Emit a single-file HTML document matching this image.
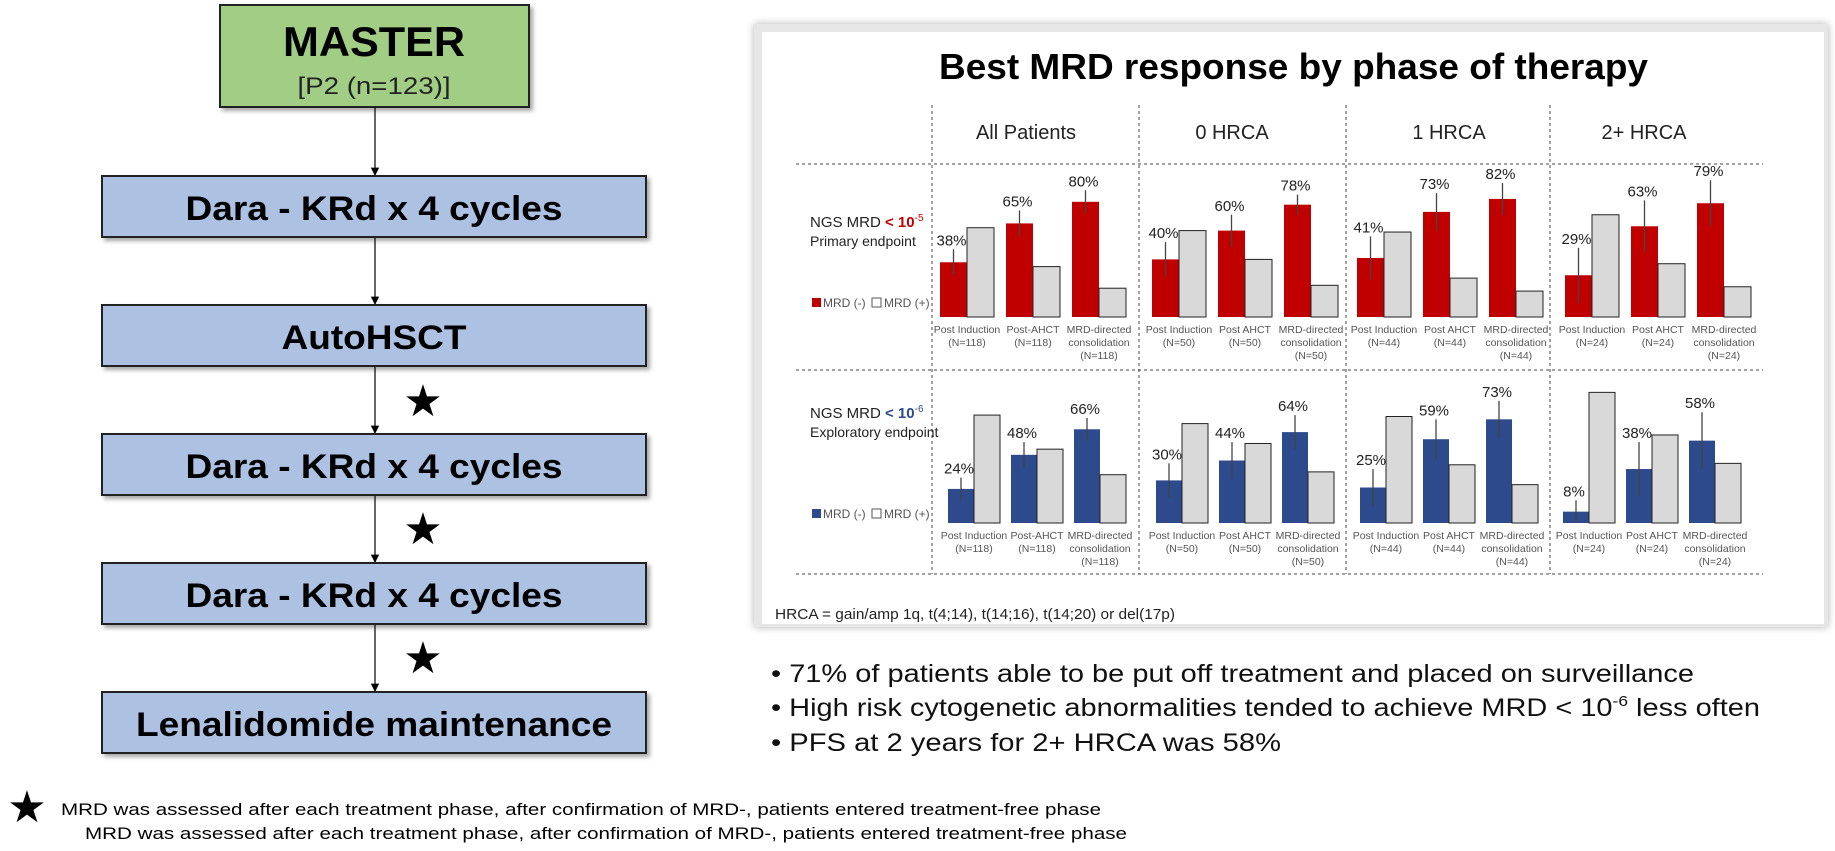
<!DOCTYPE html>
<html><head><meta charset="utf-8"><style>
html,body{margin:0;padding:0;background:#fff;}
svg{display:block;font-family:"Liberation Sans",Arial,sans-serif;}
</style></head><body>
<svg id="root" width="1835" height="851" viewBox="0 0 1835 851" xmlns="http://www.w3.org/2000/svg">
<defs>
<filter id="sh" x="-5%" y="-5%" width="110%" height="120%"><feDropShadow dx="3" dy="3" stdDeviation="2" flood-color="#000" flood-opacity="0.35"/></filter>
<filter id="psh" x="-3%" y="-3%" width="106%" height="106%"><feDropShadow dx="0" dy="0" stdDeviation="4" flood-color="#000" flood-opacity="0.3"/></filter>
<marker id="ar" viewBox="0 0 10 10" refX="10" refY="5" markerWidth="7" markerHeight="7" orient="auto"><path d="M0,0 L10,5 L0,10 z" fill="#000"/></marker>
</defs>
<g>
<rect x="220" y="5" width="309" height="102" fill="#a2cd84" stroke="#222" stroke-width="2" filter="url(#sh)"/>
<text x="374" y="56" text-anchor="middle" font-size="42" font-weight="bold" textLength="182" lengthAdjust="spacingAndGlyphs">MASTER</text>
<text x="374" y="94" text-anchor="middle" font-size="24" fill="#222" textLength="153" lengthAdjust="spacingAndGlyphs">[P2 (n=123)]</text>
<line x1="375" y1="107" x2="375" y2="176" stroke="#000" stroke-width="1.2" marker-end="url(#ar)"/>
<line x1="375" y1="237" x2="375" y2="305" stroke="#000" stroke-width="1.2" marker-end="url(#ar)"/>
<line x1="375" y1="366" x2="375" y2="434" stroke="#000" stroke-width="1.2" marker-end="url(#ar)"/>
<line x1="375" y1="495" x2="375" y2="563" stroke="#000" stroke-width="1.2" marker-end="url(#ar)"/>
<line x1="375" y1="624" x2="375" y2="692" stroke="#000" stroke-width="1.2" marker-end="url(#ar)"/>
<g><rect x="102" y="176" width="544" height="61" fill="#adc1e3" stroke="#222" stroke-width="2" filter="url(#sh)"/><text x="374" y="220" text-anchor="middle" font-size="34" font-weight="bold" textLength="377" lengthAdjust="spacingAndGlyphs">Dara - KRd x 4 cycles</text></g>
<g><rect x="102" y="305" width="544" height="61" fill="#adc1e3" stroke="#222" stroke-width="2" filter="url(#sh)"/><text x="374" y="349" text-anchor="middle" font-size="34" font-weight="bold" textLength="185" lengthAdjust="spacingAndGlyphs">AutoHSCT</text></g>
<g><rect x="102" y="434" width="544" height="61" fill="#adc1e3" stroke="#222" stroke-width="2" filter="url(#sh)"/><text x="374" y="478" text-anchor="middle" font-size="34" font-weight="bold" textLength="377" lengthAdjust="spacingAndGlyphs">Dara - KRd x 4 cycles</text></g>
<g><rect x="102" y="563" width="544" height="61" fill="#adc1e3" stroke="#222" stroke-width="2" filter="url(#sh)"/><text x="374" y="607" text-anchor="middle" font-size="34" font-weight="bold" textLength="377" lengthAdjust="spacingAndGlyphs">Dara - KRd x 4 cycles</text></g>
<g><rect x="102" y="692" width="544" height="61" fill="#adc1e3" stroke="#222" stroke-width="2" filter="url(#sh)"/><text x="374" y="736" text-anchor="middle" font-size="34" font-weight="bold" textLength="476" lengthAdjust="spacingAndGlyphs">Lenalidomide maintenance</text></g>
<text x="423" y="416" text-anchor="middle" font-family="DejaVu Sans" font-size="44">★</text>
<text x="423" y="544" text-anchor="middle" font-family="DejaVu Sans" font-size="44">★</text>
<text x="423" y="673" text-anchor="middle" font-family="DejaVu Sans" font-size="44">★</text>
</g>
<g>
<text x="27" y="822" text-anchor="middle" font-family="DejaVu Sans" font-size="44">★</text>
<text x="61" y="815" font-size="17" textLength="1040" lengthAdjust="spacingAndGlyphs">MRD was assessed after each treatment phase, after confirmation of MRD-, patients entered treatment-free phase</text>
<text x="85" y="839" font-size="17" textLength="1042" lengthAdjust="spacingAndGlyphs">MRD was assessed after each treatment phase, after confirmation of MRD-, patients entered treatment-free phase</text>
</g>
<g>
<rect x="754" y="24" width="1074" height="603" fill="#e6e6e6" filter="url(#psh)"/>
<rect x="762" y="32" width="1062" height="592" fill="#fff"/>
<text x="939" y="79" font-size="36" font-weight="bold" textLength="709" lengthAdjust="spacingAndGlyphs">Best MRD response by phase of therapy</text>
<g id="grid" stroke="#444" stroke-width="1" stroke-dasharray="3,3" fill="none"></g>
<g id="bars"></g>
<text x="775" y="619" font-size="15" fill="#222" textLength="400" lengthAdjust="spacingAndGlyphs">HRCA = gain/amp 1q, t(4;14), t(14;16), t(14;20) or del(17p)</text>
</g>
<g font-size="25" fill="#111">
<text x="771" y="682" textLength="923" lengthAdjust="spacingAndGlyphs">• 71% of patients able to be put off treatment and placed on surveillance</text>
<text x="771" y="716" textLength="989" lengthAdjust="spacingAndGlyphs">• High risk cytogenetic abnormalities tended to achieve MRD &lt; 10<tspan font-size="15" dy="-10">-6</tspan><tspan dy="10"> less often</tspan></text>
<text x="771" y="751" textLength="510" lengthAdjust="spacingAndGlyphs">• PFS at 2 years for 2+ HRCA was 58%</text>
</g>
</svg>
<script>
const panels = ["All Patients","0 HRCA","1 HRCA","2+ HRCA"];
const panelN = [118,50,44,24];
const phaseLabels = [["Post Induction","Post-AHCT","MRD-directed"],["Post Induction","Post AHCT","MRD-directed"],["Post Induction","Post AHCT","MRD-directed"],["Post Induction","Post AHCT","MRD-directed"]];
const mrd5 = [38,65,80, 40,60,78, 41,73,82, 29,63,79];
const mrd5Err = [9,9,8, 12,11,7, 15,13,11, 19,18,16];
const mrd6 = [24,48,66, 30,44,64, 25,59,73, 8,38,58];
const mrd6Err = [8,9,8, 12,13,12, 13,14,13, 8,19,20];

const NS = "http://www.w3.org/2000/svg";
const grid = document.getElementById('grid');
const bars = document.getElementById('bars');
function mk(tag, attrs, parent, txt){
  const e = document.createElementNS(NS, tag);
  for (const k in attrs) e.setAttribute(k, attrs[k]);
  if (txt !== undefined) e.textContent = txt;
  parent.appendChild(e); return e;
}
[932,1139,1346,1550].forEach(x=>{
  const l = mk('line',{x1:x,y1:105,x2:x,y2:574},grid);
  
  
});
[164,370,574].forEach(y=>{
  const l = mk('line',{x1:796,y1:y,x2:1763,y2:y},grid);
  
  
});
const headX = [1026,1232,1449,1644];
panels.forEach((p,i)=>{
  const t = mk('text',{x:headX[i],y:139,'text-anchor':'middle','font-size':20,fill:'#222'},bars,p);
  
  
});

const rows = [
  {vals:mrd5, err:mrd5Err, color:'#c00000', base:317, full:144, firsts:[940,1152,1357,1565], step:66, bw:27,
   sup:'-5', supColor:'#c00000', sub:'Primary endpoint', ly:227, legY:307, catY:333},
  {vals:mrd6, err:mrd6Err, color:'#2c4a8c', base:523, full:142, firsts:[948,1156,1360,1563], step:63, bw:26,
   sup:'-6', supColor:'#2c4a8c', sub:'Exploratory endpoint', ly:418, legY:518, catY:539}
];
function yv(r,v){ return r.base - v/100*r.full; }
rows.forEach((r,ri)=>{
  const g = mk('g',{},bars);
  
  
  const t = mk('text',{x:810,y:r.ly,'font-size':15,fill:'#222'},g);
  
  
  t.appendChild(document.createTextNode('NGS MRD '));
  mk('tspan',{fill:r.supColor,'font-weight':'bold'},t,'< 10');
  mk('tspan',{fill:r.supColor,'font-size':10,dy:-6},t,r.sup);
  const t2 = mk('text',{x:810,y:r.ly+19,'font-size':14,fill:'#222'},g,r.sub);
  
  
  const lg = mk('g',{},g);
  
  
  mk('rect',{x:812,y:r.legY-9,width:9,height:9,fill:r.color},lg);
  mk('text',{x:823,y:r.legY,'font-size':12,fill:'#555'},lg,'MRD (-)');
  mk('rect',{x:872,y:r.legY-9,width:9,height:9,fill:'#fff',stroke:'#555'},lg);
  mk('text',{x:884,y:r.legY,'font-size':12,fill:'#555'},lg,'MRD (+)');
  r.vals.forEach((v,k)=>{
    const p = Math.floor(k/3), j = k%3;
    const x = r.firsts[p] + j*r.step;
    const gap = 100 - v;
    const neg = mk('rect',{x:x,y:yv(r,v),width:r.bw,height:r.base-yv(r,v),fill:r.color},g);
    
    
    const pos = mk('rect',{x:x+r.bw,y:yv(r,gap),width:r.bw,height:r.base-yv(r,gap),fill:'#d9d9d9',stroke:'#222','stroke-width':1},g);
    
    
    const cx = x + r.bw/2;
    const e = mk('line',{x1:cx,y1:yv(r,v+r.err[k]),x2:cx,y2:yv(r,Math.max(0,v-r.err[k])),stroke:'#444','stroke-width':1.3},g);
    
    
    const lab = mk('text',{x:cx-2,y:yv(r,v+r.err[k])-4,'text-anchor':'middle','font-size':15,fill:'#222'},g,v+'%');
    
    
    const ccx = x + r.bw;
    const lines = j===2 ? [phaseLabels[p][j],'consolidation','(N='+panelN[p]+')'] : [phaseLabels[p][j],'(N='+panelN[p]+')'];
    lines.forEach((s,li)=>{
      const c = mk('text',{x:ccx,y:r.catY+li*13,'text-anchor':'middle','font-size':10.5,fill:'#555'},g,s);
      
      
    });
  });
});
</script>
</body></html>
